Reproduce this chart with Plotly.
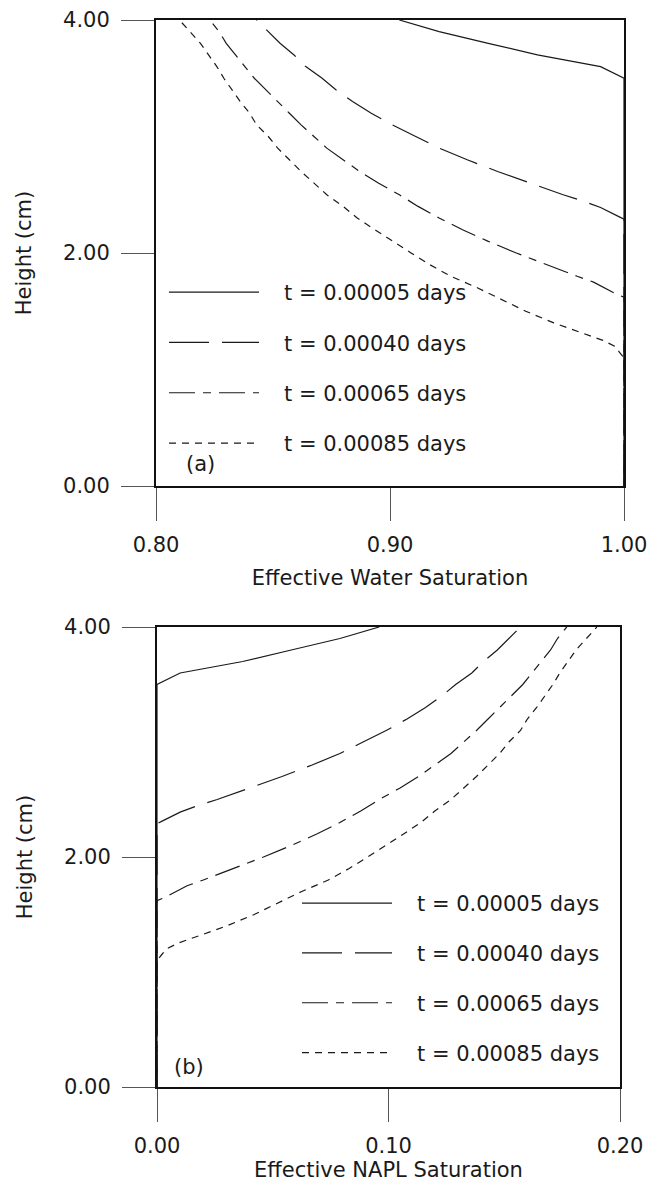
import plotly.graph_objects as go

W, H = 661, 1190

# ---------------- data ----------------
labels = ["t = 0.00005 days", "t = 0.00040 days", "t = 0.00065 days", "t = 0.00085 days"]

# t = 0.00005 days
h_a = [0.0, 3.50, 3.60, 3.70, 3.80, 3.90, 4.00]
sw_a = [1.000, 1.000, 0.990, 0.963, 0.942, 0.921, 0.904]
sn_a = [0.000, 0.000, 0.010, 0.037, 0.058, 0.079, 0.096]

# t = 0.00040 days
h_b = [0.0, 2.29, 2.31, 2.39, 2.45, 2.50, 2.60, 2.70, 2.80, 2.90, 3.00,
       3.10, 3.20, 3.30, 3.40, 3.50, 3.60, 3.70, 3.80, 3.90, 4.00]
sw_b = [1.000, 1.000, 0.998, 0.990, 0.982, 0.974, 0.960, 0.946, 0.933, 0.921, 0.911,
        0.901, 0.892, 0.884, 0.877, 0.871, 0.864, 0.859, 0.853, 0.848, 0.843]
sn_b = [0.000, 0.000, 0.002, 0.010, 0.018, 0.026, 0.040, 0.054, 0.067, 0.079, 0.089,
        0.099, 0.108, 0.116, 0.123, 0.129, 0.136, 0.141, 0.147, 0.152, 0.157]

# t = 0.00065 days
h_c = [0.0, 1.62, 1.65, 1.70, 1.75, 1.80, 1.90, 2.00, 2.10, 2.20, 2.30, 2.40, 2.50, 2.60,
       2.70, 2.80, 2.90, 3.00, 3.10, 3.20, 3.30, 3.40, 3.50, 3.60, 3.70, 3.80, 3.90, 4.00]
sw_c = [1.000, 1.000, 0.9965, 0.992, 0.987, 0.980, 0.967, 0.954, 0.942, 0.931, 0.921, 0.912,
        0.904, 0.895, 0.887, 0.880, 0.873, 0.8675, 0.862, 0.857, 0.852, 0.847, 0.842, 0.838,
        0.834, 0.830, 0.827, 0.823]
sn_c = [0.000, 0.000, 0.0035, 0.008, 0.013, 0.020, 0.033, 0.046, 0.058, 0.069, 0.079, 0.088,
        0.096, 0.105, 0.113, 0.120, 0.127, 0.1325, 0.138, 0.143, 0.148, 0.153, 0.158, 0.162,
        0.166, 0.170, 0.173, 0.177]

# t = 0.00085 days
h_d = [0.0, 1.10, 1.15, 1.20, 1.25, 1.30, 1.40, 1.50, 1.60, 1.70, 1.80, 1.90, 2.00, 2.10,
       2.20, 2.30, 2.40, 2.50, 2.60, 2.70, 2.80, 2.90, 3.00, 3.10, 3.20, 3.30, 3.40, 3.50,
       3.60, 3.70, 3.80, 3.90, 4.00]
sw_d = [1.000, 1.000, 0.998, 0.996, 0.991, 0.984, 0.970, 0.958, 0.9475, 0.9375, 0.926, 0.917,
        0.909, 0.901, 0.8935, 0.886, 0.880, 0.873, 0.8675, 0.862, 0.857, 0.852, 0.848, 0.843,
        0.840, 0.836, 0.8325, 0.829, 0.826, 0.8225, 0.819, 0.8145, 0.810]
sn_d = [0.000, 0.000, 0.002, 0.004, 0.009, 0.016, 0.030, 0.042, 0.0525, 0.0625, 0.074, 0.083,
        0.091, 0.099, 0.1065, 0.114, 0.120, 0.127, 0.1325, 0.138, 0.143, 0.148, 0.152, 0.157,
        0.160, 0.164, 0.1675, 0.171, 0.174, 0.1775, 0.181, 0.1855, 0.190]

heights = [h_a, h_b, h_c, h_d]
water = [sw_a, sw_b, sw_c, sw_d]
napl = [sn_a, sn_b, sn_c, sn_d]

x_top_ticks = [0.80, 0.90, 1.00]
x_top_labels = ["0.80", "0.90", "1.00"]
x_bot_ticks = [0.00, 0.10, 0.20]
x_bot_labels = ["0.00", "0.10", "0.20"]
y_ticks = [0.0, 2.0, 4.0]
y_labels = ["0.00", "2.00", "4.00"]

# ---------------- styling ----------------
FONT = "DejaVu Sans"
FS = 21
INK = "#1a1a1a"
dashes = ["solid", "40px,13px", "26px,8px,8px,8px", "7px,6px"]
GAP = "\u00a0\u00a0\u00a0"

fig = go.Figure()
for i in range(4):
    fig.add_trace(go.Scatter(
        x=water[i], y=heights[i], mode="lines", name=GAP + labels[i],
        line=dict(color=INK, width=1.2, dash=dashes[i]),
        xaxis="x", yaxis="y", legend="legend", legendgroup="a%d" % i))
for i in range(4):
    fig.add_trace(go.Scatter(
        x=napl[i], y=heights[i], mode="lines", name=GAP + labels[i],
        line=dict(color=INK, width=1.2, dash=dashes[i]),
        xaxis="x2", yaxis="y2", legend="legend2", legendgroup="b%d" % i))


def px_x(p):
    return p / W


def px_y(p):
    return (H - p) / H


axis_common = dict(
    showline=True, linewidth=2, linecolor="#111", mirror=True,
    ticks="outside", ticklen=33, tickwidth=1, tickcolor="#555",
    showgrid=False, zeroline=False, automargin=False,
    tickfont=dict(family=FONT, size=FS, color=INK),
)
x_common = dict(axis_common, ticklabelstandoff=6)
y_common = dict(axis_common, ticklabelstandoff=7)

fig.update_layout(
    template="none",
    width=W, height=H,
    margin=dict(l=0, r=0, t=0, b=0, autoexpand=False),
    paper_bgcolor="white", plot_bgcolor="white",
    font=dict(family=FONT, size=FS, color=INK),
    showlegend=True,
    xaxis=dict(domain=[px_x(156), px_x(624)], anchor="y", range=[0.8, 1.0],
               tickvals=x_top_ticks, ticktext=x_top_labels,
               title=dict(text="Effective Water Saturation", standoff=14,
                          font=dict(family=FONT, size=FS, color=INK)),
               **x_common),
    yaxis=dict(domain=[px_y(486), px_y(20)], anchor="x", range=[0, 4],
               tickvals=y_ticks, ticktext=y_labels,
               title=dict(text="Height (cm)", standoff=26,
                          font=dict(family=FONT, size=FS, color=INK)),
               **y_common),
    xaxis2=dict(domain=[px_x(157), px_x(620)], anchor="y2", range=[0.0, 0.2],
                tickvals=x_bot_ticks, ticktext=x_bot_labels,
                title=dict(text="Effective NAPL Saturation", standoff=4,
                           font=dict(family=FONT, size=FS, color=INK)),
                **x_common),
    yaxis2=dict(domain=[px_y(1087), px_y(627)], anchor="x2", range=[0, 4],
                tickvals=y_ticks, ticktext=y_labels,
                title=dict(text="Height (cm)", standoff=26,
                           font=dict(family=FONT, size=FS, color=INK)),
                **y_common),
    legend=dict(x=px_x(164), y=px_y(272), xanchor="left", yanchor="top",
                itemwidth=90, traceorder="grouped", tracegroupgap=20,
                bgcolor="rgba(0,0,0,0)", font=dict(family=FONT, size=FS, color=INK)),
    legend2=dict(x=px_x(297), y=px_y(883), xanchor="left", yanchor="top",
                 itemwidth=90, traceorder="grouped", tracegroupgap=19.5,
                 bgcolor="rgba(0,0,0,0)", font=dict(family=FONT, size=FS, color=INK)),
    annotations=[
        dict(text="(a)", x=px_x(184), y=px_y(464), xref="paper", yref="paper",
             xanchor="left", yanchor="middle", showarrow=False,
             font=dict(family=FONT, size=FS, color=INK)),
        dict(text="(b)", x=px_x(172), y=px_y(1067), xref="paper", yref="paper",
             xanchor="left", yanchor="middle", showarrow=False,
             font=dict(family=FONT, size=FS, color=INK)),
    ],
)

fig.write_html("out.html")
